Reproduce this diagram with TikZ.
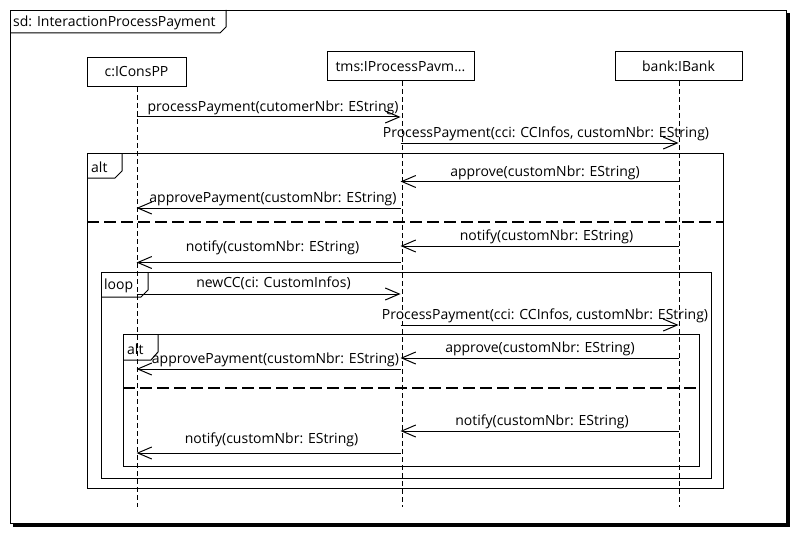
\documentclass[tikz,border=0pt]{standalone}
\usepackage{fontspec}
\setmainfont{Open Sans}
\usetikzlibrary{arrows.meta}
\tikzset{
  px/.style={x=1pt,y=-1pt},
  thin1/.style={line width=1pt},
  lifebox/.style={draw,line width=1pt,minimum height=29pt,inner sep=0pt,font=\fontsize{14}{17}\selectfont},
  lifeline/.style={line width=1pt,dash pattern=on 5pt off 3pt},
  msg/.style={line width=1pt,-{Straight Barb[length=14pt,width=12pt,line width=1pt]}},
  lbl/.style={font=\fontsize{14}{17}\selectfont,inner sep=1pt,above=0.5pt},
  frm/.style={draw,line width=1pt},
  sep/.style={line width=2pt,dash pattern=on 12pt off 5pt},
  tabtxt/.style={font=\fontsize{14}{17}\selectfont,anchor=west,inner sep=0pt}
}
\begin{document}
\begin{tikzpicture}[px]
\useasboundingbox (0,0) rectangle (796,535);
% outer frame with shadow
\draw[line width=3.5pt] (788,13) -- (788,525) -- (13,525);
\node[frm,fill=white,minimum width=776pt,minimum height=513pt,anchor=north west,inner sep=0pt] (sd) at (10,10) {};
\draw[thin1] (10,33) -- (220,33) -- (226,27) -- (226,10);
\node[tabtxt] (sdt) at (13,22.5) {sd: InteractionProcessPayment};

% lifeline heads
\node[lifebox,minimum width=99pt] (c) at (136.5,72) {c:IConsPP};
\node[lifebox,minimum width=147pt] (t) at (400.5,66.5) {tms:IProcessPavm...};
\node[lifebox,minimum width=127pt] (b) at (678.5,66.5) {bank:IBank};
\coordinate (cend) at (137,507);
\coordinate (tend) at (402,507);
\coordinate (bend) at (679,507);
\coordinate (ctop) at (137,87);
\coordinate (ttop) at (402,81);
\coordinate (btop) at (679,81);
\draw[lifeline] (ctop) -- (cend);
\draw[lifeline] (ttop) -- (tend);
\draw[lifeline] (btop) -- (bend);

% combined fragments
\node[frm,minimum width=636pt,minimum height=335pt,anchor=north west,inner sep=0pt] (alt1) at (87,153) {};
\draw[thin1] (87,178) -- (115,178) -- (122,171) -- (122,153);
\node[tabtxt] (alt1t) at (91,167) {alt};
\coordinate (s1a) at (87,222);
\coordinate (s1b) at (723,222);
\draw[sep] (s1a) -- (s1b);

\node[frm,minimum width=610pt,minimum height=206pt,anchor=north west,inner sep=0pt] (loop) at (101,272) {};
\draw[thin1] (101,297) -- (141,297) -- (148,290) -- (148,272);
\node[tabtxt] (loopt) at (104,286) {loop};

\node[frm,minimum width=576pt,minimum height=132pt,anchor=north west,inner sep=0pt] (alt2) at (123,334) {};
\draw[thin1] (123,360) -- (151,360) -- (158,352) -- (158,334);
\node[tabtxt] (alt2t) at (127,349) {alt};
\coordinate (s2a) at (123,388);
\coordinate (s2b) at (699,388);
\draw[sep] (s2a) -- (s2b);

% message rows
\foreach \n/\y in {1/117,2/143,3/181.5,4/208,5/246,6/262.5,7/294,8/325,9/358,10/369,11/431,12/453}
  \coordinate (r\n) at (0,\y);

\draw[msg] (c|-r1) -- node[lbl,xshift=4.5pt]{processPayment(cutomerNbr: EString)} (t|-r1);
\draw[msg] (t|-r2) -- node[lbl,xshift=6.5pt]{ProcessPayment(cci: CCInfos, customNbr: EString)} (b|-r2);
\draw[msg] (b|-r3) -- node[lbl,xshift=5.5pt]{approve(customNbr: EString)} (t|-r3);
\draw[msg] (t|-r4) -- node[lbl,xshift=4.5pt]{approvePayment(customNbr: EString)} (c|-r4);
\draw[msg] (b|-r5) -- node[lbl,xshift=7pt]{notify(customNbr: EString)} (t|-r5);
\draw[msg] (t|-r6) -- node[lbl,xshift=4pt,yshift=6pt]{notify(customNbr: EString)} (c|-r6);
\draw[msg] (c|-r7) -- node[lbl,xshift=5pt,yshift=2pt]{newCC(ci: CustomInfos)} (t|-r7);
\draw[msg] (t|-r8) -- node[lbl,xshift=5.5pt]{ProcessPayment(cci: CCInfos, customNbr: EString)} (b|-r8);
\draw[msg] (b|-r9) -- node[lbl,xshift=0.5pt]{approve(customNbr: EString)} (t|-r9);
\draw[msg] (t|-r10) -- node[lbl,xshift=7pt]{approvePayment(customNbr: EString)} (c|-r10);
\draw[msg] (b|-r11) -- node[lbl,xshift=2.5pt]{notify(customNbr: EString)} (t|-r11);
\draw[msg] (t|-r12) -- node[lbl,xshift=3pt,yshift=4pt]{notify(customNbr: EString)} (c|-r12);
\end{tikzpicture}
\end{document}
